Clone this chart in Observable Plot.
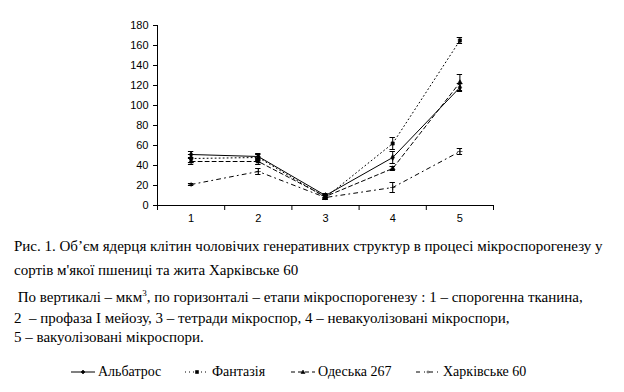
<!DOCTYPE html>
<html><head><meta charset="utf-8">
<script src="https://cdn.jsdelivr.net/npm/d3@7"></script>
<script src="https://cdn.jsdelivr.net/npm/@observablehq/plot@0.6"></script>
<style>
body{margin:0;background:#fff;}
#wrap{position:relative;width:624px;height:392px;background:#fff;font-family:"Liberation Serif","Times New Roman",serif;color:#000;}
#chart{position:absolute;left:0;top:0;}
.cap{position:absolute;left:14px;font-size:15px;white-space:pre;line-height:1;font-family:"Liberation Serif","Times New Roman",serif;}
.leg{position:absolute;top:364px;font-size:14px;white-space:nowrap;display:flex;align-items:center;font-family:"Liberation Serif","Times New Roman",serif;}
.leg svg{margin-right:3px;}
</style></head>
<body><div id="wrap"><div id="chart"></div></div>
<script>
const stages = [1, 2, 3, 4, 5];
const seriesNames = ["Альбатрос", "Фантазія", "Одеська 267", "Харківське 60"];
const albatros = [51, 49, 10, 48, 118];
const albatrosErr = [3, 3, 2, 6, 4];
const fantazia = [47, 48, 8, 62, 165];
const fantaziaErr = [4, 3, 2, 6, 3];
const odeska = [44, 44, 9, 37, 123];
const odeskaErr = [3, 3, 2, 2, 8];
const kharkiv = [21, 34, 8, 18, 54];
const kharkivErr = [1, 3, 2, 5, 3];
const yTicks = [0, 20, 40, 60, 80, 100, 120, 140, 160, 180];

const vals = [albatros, fantazia, odeska, kharkiv];
const errs = [albatrosErr, fantaziaErr, odeskaErr, kharkivErr];
const dashes = [null, "1,3", "4,3", "4,4,1,4"];
const symbols = ["diamond", "square", "triangle", "plus"];
const data = [];
seriesNames.forEach((s, i) => stages.forEach((x, j) => data.push({s, i, x, y: vals[i][j], e: errs[i][j]})));
const bounds = [0.5, 1.5, 2.5, 3.5, 4.5, 5.5];

const marks = [
  Plot.ruleY([0], {x1: 0.5, x2: 5.5, stroke: "#000"}),
  Plot.ruleX([0.5], {y1: 0, y2: 180, stroke: "#000"}),
  Plot.ruleX(bounds, {y1: 0, y2: -5, stroke: "#000"}),
  Plot.axisY({ticks: yTicks, tickSize: 4, tickPadding: 5, tickFormat: d => d, label: null, fontSize: 11, fontFamily: "Liberation Sans, Arial, sans-serif"}),
  Plot.axisX({ticks: stages, tickSize: 0, tickPadding: 9, tickFormat: d => d, label: null, fontSize: 11, fontFamily: "Liberation Sans, Arial, sans-serif"})
];
seriesNames.forEach((s, i) => {
  const d = data.filter(r => r.i === i);
  marks.push(Plot.line(d, {x: "x", y: "y", stroke: "#000", strokeWidth: 1, strokeDasharray: dashes[i]}));
  marks.push(Plot.ruleX(d, {x: "x", y1: r => r.y - r.e, y2: r => r.y + r.e, stroke: "#000"}));
  marks.push(Plot.ruleY(d, {y: r => r.y + r.e, x1: r => r.x - 0.04, x2: r => r.x + 0.04, stroke: "#000"}));
  marks.push(Plot.ruleY(d, {y: r => r.y - r.e, x1: r => r.x - 0.04, x2: r => r.x + 0.04, stroke: "#000"}));
  marks.push(Plot.dot(d, {x: "x", y: "y", symbol: () => symbols[i], r: 1.8, fill: "#000", stroke: "#000", strokeWidth: 0.6}));
});

const chart = Plot.plot({
  width: 624, height: 228,
  marginLeft: 157, marginRight: 131, marginTop: 25, marginBottom: 23,
  x: {type: "linear", domain: [0.5, 5.5], label: null},
  y: {domain: [0, 180], label: null},
  style: {background: "#fff", color: "#000"},
  marks
});
document.getElementById("chart").appendChild(chart);

const wrap = document.getElementById("wrap");
const capLines = [
  ["Рис. 1. Об’єм ядерця клітин чоловічих генеративних структур в процесі мікроспорогенезу у", 239, 14],
  ["сортів м'якої пшениці та жита Харківське 60", 263, 14],
  [" По вертикалі – мкм<sup style='font-size:9px'>3</sup>, по горизонталі – етапи мікроспорогенезу : 1 – спорогенна тканина,", 289, 14],
  ["2  – профаза І мейозу, 3 – тетради мікроспор, 4 – невакуолізовані мікроспори,", 311, 14],
  ["5 – вакуолізовані мікроспори.", 330, 14]
];
capLines.forEach(([t, top, left]) => {
  const el = document.createElement("div");
  el.className = "cap"; el.style.top = top + "px"; el.style.left = left + "px";
  el.innerHTML = t; wrap.appendChild(el);
});
const legX = [71, 185, 291, 416];
seriesNames.forEach((s, i) => {
  const el = document.createElement("div");
  el.className = "leg"; el.style.left = legX[i] + "px";
  const shape = {diamond: "M12,2L14,4L12,6L10,4Z", square: "M10.5,2.5H13.5V5.5H10.5Z", triangle: "M12,2L14,5.5H10Z", plus: "M10.5,4H13.5M12,2.5V5.5"}[symbols[i]];
  el.innerHTML = `<svg width="24" height="8"><line x1="0" x2="24" y1="4" y2="4" stroke="#000" ${dashes[i] ? `stroke-dasharray="${dashes[i]}"` : ""}/><path d="${shape}" fill="#000" stroke="#000" stroke-width="0.6"/></svg><span>${s}</span>`;
  wrap.appendChild(el);
});
</script></body></html>
